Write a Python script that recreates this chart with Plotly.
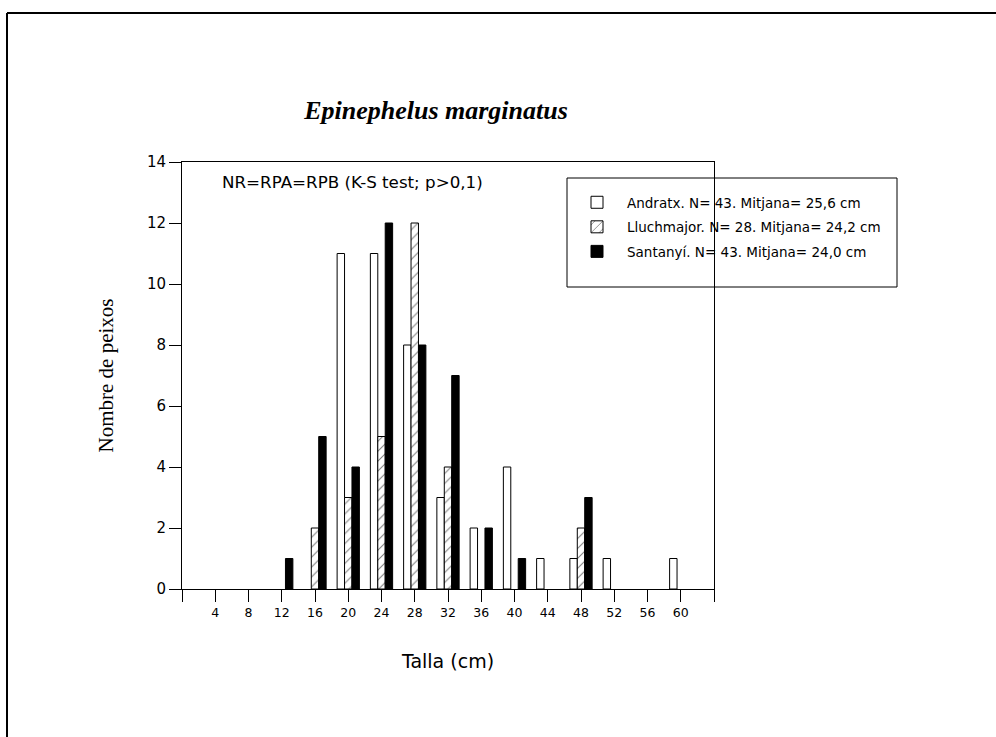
import plotly.graph_objects as go

bins = [4, 8, 12, 16, 20, 24, 28, 32, 36, 40, 44, 48, 52, 56, 60]
andratx = [0, 0, 0, 0, 11, 11, 8, 3, 2, 4, 1, 1, 1, 0, 1]
lluchmajor = [0, 0, 0, 2, 3, 5, 12, 4, 0, 0, 0, 2, 0, 0, 0]
santanyi = [0, 0, 1, 5, 4, 12, 8, 7, 2, 1, 0, 3, 0, 0, 0]
names = ["Andratx. N= 43. Mitjana= 25,6 cm",
         "Lluchmajor. N= 28. Mitjana= 24,2 cm",
         "Santanyí. N= 43. Mitjana= 24,0 cm"]
tick_vals = list(range(0, 65, 4))
tick_text = ["" if v in (0, 64) else str(v) for v in tick_vals]

L, R, T, B = 182, 714, 162, 589
W, H = 996, 737


def nz(vals):
    return [v if v != 0 else None for v in vals]


fig = go.Figure()
fig.add_trace(go.Bar(x=bins, y=nz(andratx), name=names[0], legendgroup="a",
                     marker=dict(color="white", line=dict(color="black", width=1))))
fig.add_trace(go.Bar(x=bins, y=nz(lluchmajor), name=names[1], legendgroup="b",
                     marker=dict(color="white", line=dict(color="black", width=1),
                                 pattern=dict(shape="/", fgcolor="black", bgcolor="white",
                                              size=7, solidity=0.15))))
fig.add_trace(go.Bar(x=bins, y=nz(santanyi), name=names[2], legendgroup="c",
                     marker=dict(color="black", line=dict(color="black", width=1))))


def px(x):
    return (x - L) / (R - L)


def py(y):
    return (B - y) / (B - T)


SANS = "DejaVu Sans"
SERIF = "Liberation Serif"

fig.update_layout(
    width=W, height=H,
    margin=dict(l=L, r=W - R, t=T, b=H - B),
    paper_bgcolor="white", plot_bgcolor="white",
    barmode="group", bargap=0.33, bargroupgap=0,
    font=dict(family=SANS, color="black"),
    title=dict(text="<b><i>Epinephelus marginatus</i></b>",
               font=dict(family=SERIF, size=26, color="black"),
               x=436 / W, xref="container", y=1 - 110 / H, yref="container",
               xanchor="center", yanchor="middle"),
    xaxis=dict(range=[0, 64], tickmode="array", tickvals=tick_vals, ticktext=tick_text,
               ticks="outside", ticklen=12, tickcolor="black", tickwidth=1,
               showline=True, linecolor="black", linewidth=1, mirror=True,
               showgrid=False, zeroline=False,
               tickfont=dict(size=12.5, family=SANS),
               title=dict(text="Talla (cm)", font=dict(size=19, family=SANS),
                          standoff=35)),
    yaxis=dict(range=[0, 14], dtick=2, ticks="outside", ticklen=12, tickcolor="black",
               tickwidth=1, showline=True, linecolor="black", linewidth=1, mirror=True,
               showgrid=False, zeroline=False,
               tickfont=dict(size=15, family=SANS),
               title=dict(text="Nombre de peixos",
                          font=dict(size=21, family=SERIF),
                          standoff=27)),
    legend=dict(x=px(567), y=py(187), xanchor="left", yanchor="top",
                bgcolor="rgba(0,0,0,0)", borderwidth=0,
                font=dict(size=13.5, family=SANS),
                itemwidth=50, tracegroupgap=4),
    showlegend=True,
)

fig.add_annotation(text="NR=RPA=RPB (K-S test; p>0,1)", xref="paper", yref="paper",
                   x=px(220), y=py(182), xanchor="left", yanchor="middle",
                   showarrow=False, font=dict(size=16.7, family=SANS))

# legend box
fig.add_shape(type="rect", xref="paper", yref="paper",
              x0=px(567), y0=py(178), x1=px(897), y1=py(287),
              line=dict(color="black", width=1), fillcolor="white", layer="below")

# page border
fig.add_shape(type="line", xref="paper", yref="paper",
              x0=px(7), y0=py(13), x1=px(1000), y1=py(13),
              line=dict(color="black", width=2))
fig.add_shape(type="line", xref="paper", yref="paper",
              x0=px(7), y0=py(13), x1=px(7), y1=py(740),
              line=dict(color="black", width=2))

fig.write_html("out.html")
